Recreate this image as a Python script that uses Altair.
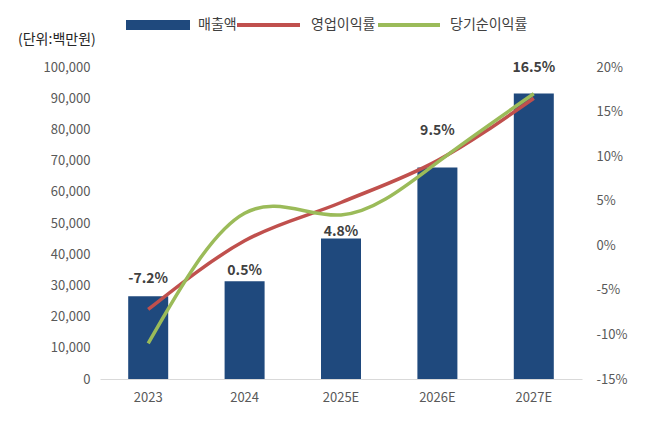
import altair as alt
import pandas as pd

years = ["2023", "2024", "2025E", "2026E", "2027E"]
sales = [26500, 31300, 45000, 67800, 91500]
op_margin = [-7.2, 0.5, 4.8, 9.5, 16.5]
net_margin = [-11.0, 3.6, 3.4, 9.3, 17.0]
label_above = [True, False, False, True, True]

FONT = "Noto Sans CJK KR"
df = pd.DataFrame({
    "year": years, "sales": sales, "op": op_margin, "net": net_margin,
    "above": label_above,
    "label": [f"{v:.1f}%" for v in op_margin],
})

x = alt.X("year:N", sort=years, title=None,
          axis=alt.Axis(labelAngle=0, ticks=False, domainColor="#d9d9d9",
                        labelColor="#595959", labelFontSize=13, labelPadding=12))
base = alt.Chart(df)
pct = alt.Scale(domain=[-15, 20])

bars = base.mark_bar(color="#1f497d", size=40).encode(
    x=x,
    y=alt.Y("sales:Q", title=None, scale=alt.Scale(domain=[0, 100000]),
            axis=alt.Axis(values=list(range(0, 100001, 10000)),
                          labelExpr="format(datum.value, ',')", grid=False, domain=False,
                          ticks=False, labelColor="#595959", labelFontSize=13,
                          labelPadding=10)),
)

red = base.mark_line(color="#c0504d", strokeWidth=3.5, interpolate="monotone").encode(
    x=x,
    y=alt.Y("op:Q", title=None, scale=pct,
            axis=alt.Axis(values=list(range(-15, 21, 5)), labelExpr="datum.value + '%'",
                          grid=False, domain=False, ticks=False, orient="right",
                          labelColor="#595959", labelFontSize=13, labelPadding=14)))
green = base.mark_line(color="#9bbb59", strokeWidth=3.5, interpolate="natural").encode(
    x=x, y=alt.Y("net:Q", scale=pct, axis=None))
txt_up = base.transform_filter("datum.above").mark_text(
    font=FONT, fontSize=14, fontWeight="bold", color="#404040", dy=-30
).encode(x=x, y=alt.Y("op:Q", scale=pct, axis=None), text="label:N")
txt_dn = base.transform_filter("!datum.above").mark_text(
    font=FONT, fontSize=14, fontWeight="bold", color="#404040", dy=30
).encode(x=x, y=alt.Y("op:Q", scale=pct, axis=None), text="label:N")

# legend and unit note
leg = pd.DataFrame({
    "name": ["매출액", "영업이익률", "당기순이익률"],
    "x0": [26, 137, 278], "x1": [90, 200, 340], "xt": [98, 211, 350],
    "c": ["#1f497d", "#c0504d", "#9bbb59"],
})
leg_rect = alt.Chart(leg.iloc[:1]).mark_rect(color="#1f497d").encode(
    x=alt.X("x0:Q", scale=None), x2="x1:Q", y=alt.value(-47), y2=alt.value(-37))
leg_lines = alt.Chart(leg.iloc[1:]).mark_rule(strokeWidth=4).encode(
    x=alt.X("x0:Q", scale=None), x2="x1:Q", y=alt.value(-42),
    color=alt.Color("c:N", scale=None))
leg_text = alt.Chart(leg).mark_text(font=FONT, fontSize=14, align="left", color="#404040").encode(
    x=alt.X("xt:Q", scale=None), y=alt.value(-42), text="name:N")
unit = alt.Chart(pd.DataFrame({"t": ["(단위:백만원)"]})).mark_text(
    font=FONT, fontSize=14, align="left", color="#262626").encode(
    x=alt.value(-82), y=alt.value(-27), text="t:N")

chart = alt.layer(bars, red, green, txt_up, txt_dn, leg_rect, leg_lines, leg_text, unit).resolve_scale(
    y="independent").properties(
    width=482, height=312,
    autosize=alt.AutoSizeParams(type="none"),
    padding={"left": 92, "top": 59, "right": 57, "bottom": 37},
).configure_view(stroke=None).configure_axis(labelFont=FONT)

chart.save("out.html", embed_options={"renderer": "svg", "actions": False})
